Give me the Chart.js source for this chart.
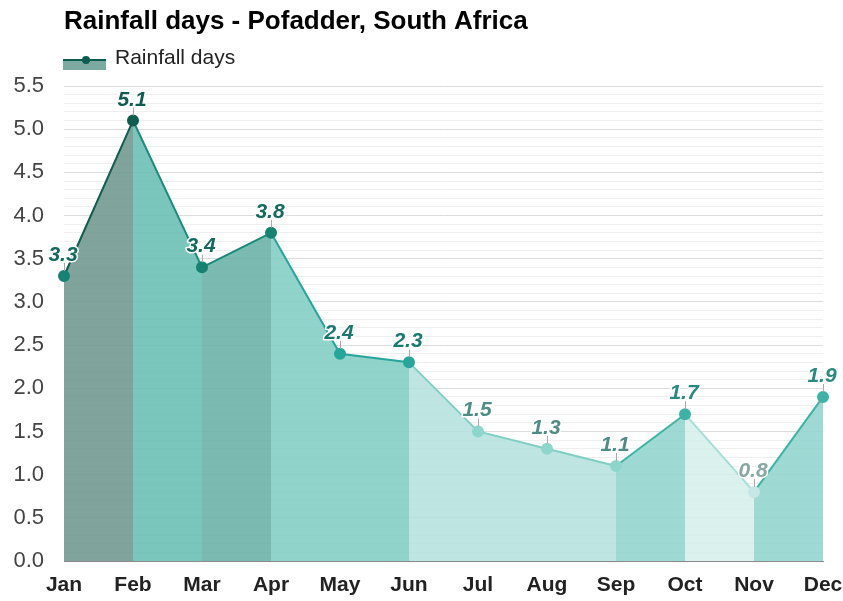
<!DOCTYPE html>
<html>
<head>
<meta charset="utf-8">
<script src="https://cdn.jsdelivr.net/npm/chart.js@4.4.1/dist/chart.umd.min.js"></script>
<style>
html,body{margin:0;padding:0;background:#ffffff;}
#wrap{width:843px;height:601px;position:relative;}
</style>
</head>
<body>
<div id="wrap"><canvas id="c" width="843" height="601"></canvas></div>
<script>
const title = 'Rainfall days - Pofadder, South Africa';
const seriesName = 'Rainfall days';
const months = ['Jan','Feb','Mar','Apr','May','Jun','Jul','Aug','Sep','Oct','Nov','Dec'];
const rainDays = [3.3, 5.1, 3.4, 3.8, 2.4, 2.3, 1.5, 1.3, 1.1, 1.7, 0.8, 1.9];
const yMin = 0;
const yMax = 5.5;

// styles (per segment starting at month i, and per point)
const segFill = ['rgba(110,150,142,0.88)','rgba(104,190,179,0.88)','rgba(104,176,166,0.88)','rgba(128,205,196,0.88)','rgba(128,205,196,0.88)',
                 'rgba(180,225,221,0.85)','rgba(180,225,221,0.85)','rgba(180,225,221,0.85)','rgba(145,213,205,0.88)','rgba(212,238,235,0.85)','rgba(145,213,205,0.88)'];
const segLine = ['#0f5c50','#1d8a7c','#1a8a7a','#26a69a','#26a69a','#7fcfc5','#7fcfc5','#7fcfc5','#3db3a5','#a8ddd7','#3db3a5'];
const ptColor = ['#178272','#0d5c4f','#178272','#178272','#26a69a','#26a69a','#8ed6cc','#8ed6cc','#8ed6cc','#3db3a5','#c6e8e4','#3db3a5'];
const lblColor = ['#146a5e','#0d5c4f','#146a5e','#146a5e','#1b7a6f','#1b7a6f','#4f8c85','#4f8c85','#4f8c85','#2a8a80','#8aa8a4','#2a8a80'];

const headerPlugin = {
  id: 'header',
  afterDraw(chart) {
    const ctx = chart.ctx;
    ctx.save();
    ctx.fillStyle = '#000';
    ctx.font = 'bold 26px "Liberation Sans", Arial, sans-serif';
    ctx.textBaseline = 'alphabetic';
    ctx.textAlign = 'left';
    ctx.fillText(title, 64, 29);
    // legend
    ctx.fillStyle = 'rgba(110,160,150,0.9)';
    ctx.fillRect(63, 60, 43, 10);
    ctx.strokeStyle = '#0d5c4f';
    ctx.lineWidth = 2;
    ctx.beginPath(); ctx.moveTo(63, 60); ctx.lineTo(106, 60); ctx.stroke();
    ctx.fillStyle = '#0d5c4f';
    ctx.beginPath(); ctx.arc(86, 60, 4, 0, Math.PI*2); ctx.fill();
    ctx.fillStyle = '#222';
    ctx.font = '21px "Liberation Sans", Arial, sans-serif';
    ctx.textBaseline = 'middle';
    ctx.fillText(seriesName, 115, 58);
    ctx.restore();
  }
};

const labelPlugin = {
  id: 'valueLabels',
  afterDatasetsDraw(chart) {
    const ctx = chart.ctx;
    const meta = chart.getDatasetMeta(0);
    ctx.save();
    meta.data.forEach((pt, i) => {
      const x = pt.x, y = pt.y;
      ctx.strokeStyle = '#aaaaaa';
      ctx.lineWidth = 1;
      ctx.beginPath(); ctx.moveTo(x + 0.5, y - 5); ctx.lineTo(x + 0.5, y - 13); ctx.stroke();
      const txt = rainDays[i].toFixed(1);
      ctx.font = 'italic bold 21px "Liberation Sans", Arial, sans-serif';
      ctx.textAlign = 'center';
      ctx.textBaseline = 'alphabetic';
      ctx.lineJoin = 'round';
      ctx.strokeStyle = '#ffffff';
      ctx.lineWidth = 3;
      ctx.strokeText(txt, x - 1, y - 15);
      ctx.fillStyle = lblColor[i];
      ctx.fillText(txt, x - 1, y - 15);
    });
    ctx.restore();
  }
};

new Chart(document.getElementById('c'), {
  type: 'line',
  data: {
    labels: months,
    datasets: [{
      label: seriesName,
      data: rainDays,
      fill: 'origin',
      borderWidth: 2,
      tension: 0,
      pointRadius: 5,
      pointHoverRadius: 5,
      pointBackgroundColor: ptColor,
      pointBorderColor: ptColor,
      borderColor: '#26a69a',
      backgroundColor: 'rgba(128,205,196,0.88)',
      segment: {
        borderColor: c => segLine[c.p0DataIndex],
        backgroundColor: c => segFill[c.p0DataIndex]
      }
    }]
  },
  options: {
    responsive: false,
    animation: false,
    layout: { padding: { top: 86, right: 20, left: 0, bottom: 0 } },
    plugins: { legend: { display: false }, title: { display: false }, tooltip: { enabled: false } },
    scales: {
      x: {
        offset: false,
        grid: { display: false, drawTicks: false },
        border: { display: true, color: '#8a8a8a', width: 1 },
        ticks: { color: '#222', font: { family: '"Liberation Sans", Arial, sans-serif', size: 21, weight: 'bold' }, padding: 12, maxRotation: 0, autoSkip: false },
        afterFit(s) { s.height = 40; s.paddingLeft = 0; s.paddingRight = 0; }
      },
      y: {
        min: yMin, max: yMax,
        grid: {
          drawTicks: false,
          color: c => (Math.round(c.tick.value * 10) % 5 === 0 ? '#dcdcdc' : '#efefef'),
          lineWidth: 1
        },
        border: { display: false },
        ticks: {
          stepSize: 0.1, autoSkip: false, padding: 20, color: '#444',
          font: { family: '"Liberation Sans", Arial, sans-serif', size: 22 },
          callback: v => (Math.round(v * 10) % 5 === 0 ? Number(v).toFixed(1) : '')
        },
        afterFit(s) { s.width = 64; s.paddingTop = 0; s.paddingBottom = 0; }
      }
    }
  },
  plugins: [headerPlugin, labelPlugin]
});
</script>
</body>
</html>
